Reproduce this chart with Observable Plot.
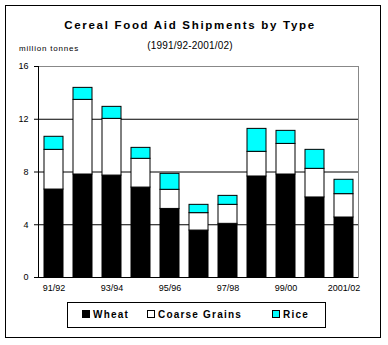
<!DOCTYPE html>
<html><head><meta charset="utf-8">
<script src="https://cdn.jsdelivr.net/npm/d3@7"></script>
<script src="https://cdn.jsdelivr.net/npm/@observablehq/plot@0.6"></script>
<style>
body{margin:0;background:#fff;font-family:"Liberation Sans",Arial,sans-serif;}
#wrap{position:relative;width:388px;height:345px;}
#border{position:absolute;left:5px;top:5px;width:376px;height:333px;border:1px solid #000;box-sizing:border-box;}
.t{position:absolute;white-space:nowrap;color:#000;}
#title{left:0;width:380px;text-align:center;top:19px;font-size:11.5px;font-weight:bold;letter-spacing:1.7px;}
#sub{left:0;width:380px;text-align:center;top:40px;font-size:10px;letter-spacing:0.2px;}
#unit{left:19px;top:44px;font-size:8px;letter-spacing:0.8px;}
#legend{position:absolute;left:67px;top:302px;width:259px;height:26px;border:1px solid #000;box-sizing:border-box;font-size:10px;font-weight:bold;letter-spacing:1.2px;}
#legend span.item{position:absolute;top:6px;}
#legend i{display:inline-block;width:6px;height:6px;border:1px solid #000;margin-right:3px;vertical-align:0px;}
svg{position:absolute;left:0;top:0;}
</style></head>
<body><div id="wrap">
<div id="border"></div>
<div class="t" id="title">Cereal Food Aid Shipments by Type</div>
<div class="t" id="sub">(1991/92-2001/02)</div>
<div class="t" id="unit">million tonnes</div>
<div id="legend">
<span class="item" style="left:14px"><i style="background:#000"></i>Wheat</span>
<span class="item" style="left:79px"><i style="background:#fff"></i>Coarse Grains</span>
<span class="item" style="left:204px"><i style="background:#00ffff"></i>Rice</span>
</div>
</div>
<script>
const years = ["91/92","92/93","93/94","94/95","95/96","96/97","97/98","98/99","99/00","2000/01","2001/02"];
const shownTicks = ["91/92","93/94","95/96","97/98","99/00","2001/02"];
const types = ["Wheat","Coarse Grains","Rice"];
const wheat  = [6.67,7.81,7.73,6.82,5.20,3.56,4.07,7.66,7.81,6.07,4.55];
const coarse = [3.01,5.66,4.30,2.18,1.45,1.32,1.44,1.87,2.32,2.17,1.77];
const rice   = [0.99,0.91,0.91,0.83,1.21,0.63,0.68,1.74,0.99,1.44,1.09];
const yTicks = [0,4,8,12,16];
const colors = ["#000000","#ffffff","#00ffff"];

const series = [wheat, coarse, rice];
const rows = [];
types.forEach((t, k) => years.forEach((y, i) => rows.push({year: y, type: t, value: series[k][i]})));

const chart = Plot.plot({
  width: 388, height: 345,
  marginLeft: 38, marginRight: 30, marginTop: 66, marginBottom: 68,
  style: {fontFamily: "'Liberation Sans', Arial, sans-serif", fontSize: "9px", background: "transparent", overflow: "visible"},
  x: {domain: years, paddingInner: 0.35, paddingOuter: 0.175, label: null},
  y: {domain: [0, 16], label: null},
  color: {domain: types, range: colors},
  marks: [
    Plot.frame({stroke: "#888"}),
    Plot.ruleY([4, 8, 12], {stroke: "#000"}),
    Plot.barY(rows, {x: "year", y: "value", fill: "type", order: types, stroke: "#000", strokeWidth: 1}),
    Plot.ruleY([0], {stroke: "#000"}),
    Plot.frame({anchor: "left", stroke: "#000"}),
    Plot.axisY({ticks: yTicks, tickSize: 4, tickPadding: 6, stroke: "#000", label: null}),
    Plot.axisX({ticks: shownTicks, tickSize: 0, tickPadding: 7, label: null, style: {letterSpacing: "1px"}})
  ]
});
document.getElementById("wrap").appendChild(chart);
</script>
</body></html>
